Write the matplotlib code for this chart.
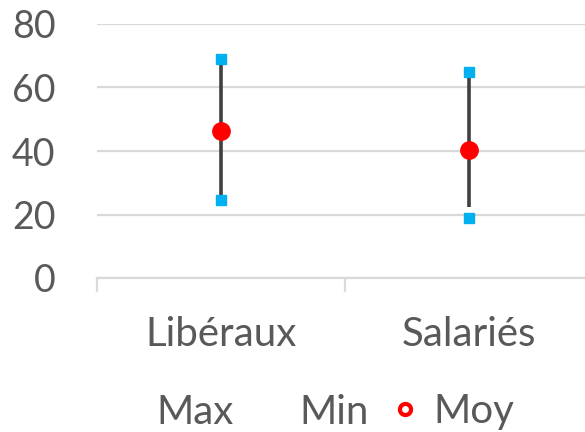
import matplotlib
matplotlib.use("Agg")
import matplotlib.pyplot as plt
from matplotlib.lines import Line2D

categories = ["Libéraux", "Salariés"]
max_vals = [69, 65]
min_vals = [24.5, 19]
moy_vals = [46.3, 40.3]
line_high = [69, 65]
line_low = [26, 22.5]
yticks = [0, 20, 40, 60, 80]

plt.rcParams['font.family'] = ['Lato', 'DejaVu Sans']
txt = '#595959'
fs = 29

fig = plt.figure(figsize=(5.85, 4.32), dpi=100)
ax = fig.add_axes([97/585, 1-278/432, 1-97/585, (278-24)/432])
x = list(range(len(categories)))

ax.vlines(x, line_low, line_high, color='#404040', lw=2.6, zorder=2)
ax.plot(x, max_vals, ls='none', marker='s', ms=7, color='#00B0F0', zorder=3)
ax.plot(x, min_vals, ls='none', marker='s', ms=7, color='#00B0F0', zorder=3)
ax.plot(x, moy_vals, ls='none', marker='o', ms=12.5, color='#FF0000', zorder=4)

ax.set_ylim(0, 80)
ax.set_xlim(-0.5, -0.5 + 488/248)
ax.set_yticks(yticks)
ax.set_xticks(x)
ax.set_xticklabels(categories)
ax.grid(axis='y', color='#D9D9D9', lw=1.6)
ax.set_axisbelow(True)
for s in ['top', 'right', 'left']:
    ax.spines[s].set_visible(False)
ax.spines['bottom'].set_color('#D9D9D9')
ax.spines['bottom'].set_linewidth(1.6)
ax.tick_params(axis='y', length=0, pad=30, labelsize=27, labelcolor=txt)
ax.tick_params(axis='x', length=0, pad=27, labelsize=fs, labelcolor=txt)
# category boundary ticks
for b in [-0.5, 0.5]:
    ax.plot([b, b], [0, -4], color='#D9D9D9', lw=1.6, clip_on=False)

handles = [
    Line2D([], [], ls='none', marker=None),
    Line2D([], [], ls='none', marker=None),
    Line2D([], [], ls='none', marker='o', ms=8, mfc='white', mec='#FF0000', mew=3),
]
fig.legend(handles, ['Max', 'Min', 'Moy'], loc='center', bbox_to_anchor=(0.532, 1-412/432),
           ncol=3, frameon=False, fontsize=fs, labelcolor=txt,
           handlelength=1.0, handletextpad=0.2, columnspacing=0.42)

fig.savefig('out.png', dpi=100)
